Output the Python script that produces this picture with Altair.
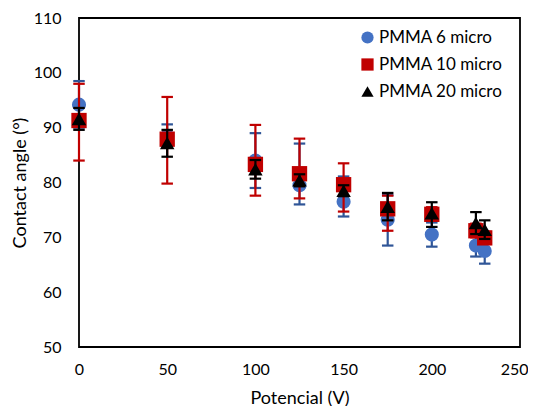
import altair as alt
import pandas as pd

series_names = ["PMMA 6 micro", "PMMA 10 micro", "PMMA 20 micro"]
x_vals = [0, 50, 100, 125, 150, 175, 200, 225, 230]

y_6 = [94.2, 88.5, 84.0, 79.5, 76.5, 73.2, 70.5, 68.5, 67.5]
hi_6 = [98.5, 90.6, 89.0, 87.1, 81.1, 77.7, 72.7, 70.5, 69.8]
lo_6 = [90.0, 86.4, 79.0, 76.0, 73.8, 68.5, 68.3, 66.5, 65.2]

y_10 = [91.3, 87.9, 83.3, 81.6, 79.6, 75.2, 74.2, 71.2, 69.9]
hi_10 = [98.0, 95.6, 90.5, 88.0, 83.5, 77.6, 75.5, 72.5, 71.0]
lo_10 = [84.0, 79.8, 77.6, 77.1, 74.7, 71.2, 73.0, 70.0, 69.0]

y_20 = [91.6, 87.2, 82.4, 80.4, 78.5, 75.6, 74.4, 72.6, 71.4]
hi_20 = [93.6, 89.6, 84.1, 81.5, 79.5, 78.1, 76.4, 74.6, 73.1]
lo_20 = [89.6, 84.7, 80.7, 79.3, 77.5, 73.1, 71.9, 70.6, 69.7]

x_ticks = [0, 50, 100, 150, 200, 250]
y_ticks = [50, 60, 70, 80, 90, 100, 110]

marker_colors = ["#4472C4", "#C00000", "#000000"]
error_colors = ["#2F5597", "#C00000", "#000000"]
shapes = ["circle", "square", "triangle-up"]
sizes = [200, 235, 210]

FONT = "Lato"
CAP = "M-1,0L1,0"

data = [(y_6, lo_6, hi_6), (y_10, lo_10, hi_10), (y_20, lo_20, hi_20)]

xscale = alt.Scale(domain=[0, 250], nice=False, zero=False)
yscale = alt.Scale(domain=[50, 110], nice=False, zero=False)
color_scale = alt.Scale(domain=series_names, range=marker_colors)
shape_scale = alt.Scale(domain=series_names, range=shapes)

legend = alt.Legend(title=None, orient="none", legendX=280, legendY=11,
                    symbolSize=150, rowPadding=9, labelFontSize=17,
                    labelFont=FONT, labelColor="#000000", symbolStrokeWidth=0,
                    labelOffset=3)

layers = []
for i, name in enumerate(series_names):
    ys, los, his = data[i]
    df = pd.DataFrame({"x": x_vals, "y": ys, "lo": los, "hi": his, "series": name})
    base = alt.Chart(df)
    rule = base.mark_rule(color=error_colors[i], strokeWidth=2.2).encode(
        x=alt.X("x:Q", scale=xscale),
        y=alt.Y("lo:Q", scale=yscale),
        y2="hi:Q",
    )
    cap_lo = base.mark_point(shape=CAP, size=132, filled=False, opacity=1,
                             stroke=error_colors[i], strokeWidth=2.2).encode(
        x=alt.X("x:Q", scale=xscale), y=alt.Y("lo:Q", scale=yscale)
    )
    cap_hi = base.mark_point(shape=CAP, size=132, filled=False, opacity=1,
                             stroke=error_colors[i], strokeWidth=2.2).encode(
        x=alt.X("x:Q", scale=xscale), y=alt.Y("hi:Q", scale=yscale)
    )
    pts = base.mark_point(filled=True, opacity=1, size=sizes[i]).encode(
        x=alt.X("x:Q", scale=xscale,
                axis=alt.Axis(title="Potencial (V)", values=x_ticks,
                              grid=False, ticks=False, domain=False, labelPadding=14,
                              titlePadding=12, labelFlush=False,
                              labelAlign={"expr": "datum.value >= 250 ? 'right' : 'center'"},
                              labelOffset={"expr": "datum.value >= 250 ? 8 : 0"})),
        y=alt.Y("y:Q", scale=yscale,
                axis=alt.Axis(title="Contact angle (°)", values=y_ticks,
                              grid=False, ticks=False, domain=False, labelPadding=18,
                              titlePadding=4, labelFlush=False)),
        color=alt.Color("series:N", scale=color_scale, legend=legend),
        shape=alt.Shape("series:N", scale=shape_scale, legend=legend),
    )
    layers += [rule, cap_lo, cap_hi, pts]

chart = alt.layer(*layers).properties(
    width=441, height=329,
    autosize=alt.AutoSizeParams(type="none"),
    padding={"left": 71, "top": 10, "right": 8, "bottom": 59},
).configure_view(
    stroke="#000000", strokeWidth=1.8
).configure_axis(
    labelFont=FONT, labelFontSize=16, labelColor="#000000",
    titleFont=FONT, titleFontSize=18, titleColor="#000000", titleFontWeight="normal",
).configure_legend(
    labelFont=FONT, labelFontSize=17, labelColor="#000000"
)

chart.save("out.html", embed_options={"renderer": "svg", "actions": False})
